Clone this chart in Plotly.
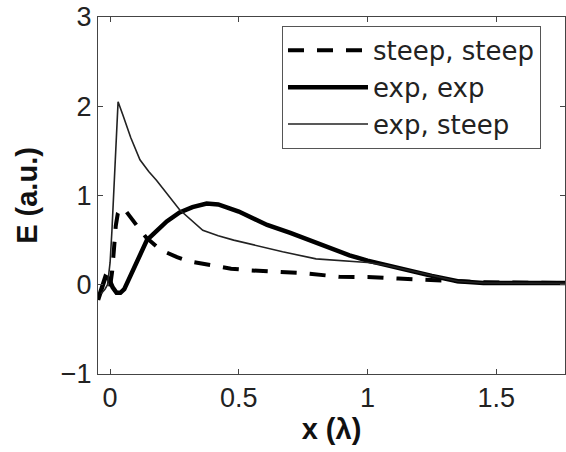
import plotly.graph_objects as go

# steep, steep (dashed)
x_ss = [0.0, 0.008, 0.015, 0.022, 0.03, 0.042, 0.06, 0.08, 0.11, 0.14, 0.18, 0.22, 0.26, 0.31, 0.39, 0.47, 0.55, 0.65, 0.75, 0.89, 1.02, 1.12, 1.22, 1.32, 1.42, 1.52, 1.62, 1.7, 1.77]
y_ss = [-0.02, 0.15, 0.4, 0.66, 0.8, 0.86, 0.83, 0.76, 0.64, 0.53, 0.43, 0.36, 0.31, 0.26, 0.22, 0.18, 0.16, 0.14, 0.13, 0.09, 0.085, 0.07, 0.055, 0.04, 0.03, 0.025, 0.02, 0.02, 0.02]

# exp, exp (thick)
x_ee = [-0.047, -0.03, -0.018, -0.005, 0.01, 0.025, 0.04, 0.055, 0.075, 0.1, 0.143, 0.18, 0.22, 0.27, 0.32, 0.375, 0.42, 0.5, 0.61, 0.7, 0.775, 0.85, 0.93, 1.0, 1.07, 1.15, 1.25, 1.35, 1.45, 1.55, 1.65, 1.77]
y_ee = [-0.17, 0.0, 0.09, 0.07, -0.03, -0.09, -0.09, -0.05, 0.08, 0.24, 0.5, 0.6, 0.71, 0.81, 0.87, 0.91, 0.9, 0.82, 0.67, 0.58, 0.5, 0.41, 0.33, 0.27, 0.22, 0.17, 0.1, 0.04, 0.02, 0.02, 0.015, 0.02]

# exp, steep (thin)
x_es = [-0.035, -0.02, -0.01, 0.0, 0.007, 0.019, 0.031, 0.05, 0.08, 0.116, 0.15, 0.18, 0.22, 0.27, 0.36, 0.42, 0.48, 0.55, 0.6, 0.67, 0.8, 0.93, 1.0, 1.07, 1.15, 1.25, 1.35, 1.45, 1.55, 1.65, 1.77]
y_es = [-0.1, -0.05, 0.0, 0.25, 0.6, 1.36, 2.05, 1.9, 1.65, 1.4, 1.27, 1.17, 1.02, 0.84, 0.61, 0.55, 0.5, 0.45, 0.42, 0.37, 0.29, 0.26, 0.25, 0.22, 0.17, 0.1, 0.04, 0.02, 0.02, 0.015, 0.015]

x_ticks = [0, 0.5, 1, 1.5]
x_ticklabels = ["0", "0.5", "1", "1.5"]
y_ticks = [-1, 0, 1, 2, 3]
y_ticklabels = ["\u22121", "0", "1", "2", "3"]

fig = go.Figure()
fig.add_trace(go.Scatter(x=x_ss, y=y_ss, mode="lines", name="steep, steep",
                         line=dict(color="black", width=4, dash="16px,13px")))
fig.add_trace(go.Scatter(x=x_ee, y=y_ee, mode="lines", name="exp, exp",
                         line=dict(color="black", width=4.5)))
fig.add_trace(go.Scatter(x=x_es, y=y_es, mode="lines", name="exp, steep",
                         line=dict(color="#222222", width=1.6)))

font_fam = "Liberation Sans, Arial, sans-serif"
fig.update_layout(
    width=566, height=452,
    margin=dict(l=98, r=1, t=17, b=78),
    paper_bgcolor="white", plot_bgcolor="white",
    font=dict(family=font_fam, size=27, color="#222222"),
    showlegend=True,
    legend=dict(x=0.394, y=0.975, xanchor="left", yanchor="top",
                bordercolor="#555555", borderwidth=1, bgcolor="white",
                font=dict(family="DejaVu Sans, sans-serif", size=26, color="#222222"),
                itemwidth=80, tracegroupgap=0),
    xaxis=dict(range=[-0.047, 1.767], tickvals=x_ticks, ticktext=x_ticklabels,
               ticks="inside", ticklen=5, tickcolor="#444444",
               showline=True, linecolor="#444444", linewidth=1, mirror="ticks",
               showgrid=False, zeroline=False,
               tickfont=dict(size=27),
               title=dict(text="<b>x (\u03bb)</b>", font=dict(size=29, color="#111111"), standoff=6)),
    yaxis=dict(range=[-1, 3], tickvals=y_ticks, ticktext=y_ticklabels,
               ticks="inside", ticklen=5, tickcolor="#444444",
               showline=True, linecolor="#444444", linewidth=1, mirror="ticks",
               showgrid=False, zeroline=False,
               tickfont=dict(size=27),
               title=dict(text="<b>E (a.u.)</b>", font=dict(size=29, color="#111111"), standoff=14)),
)

fig.write_html("out.html")
